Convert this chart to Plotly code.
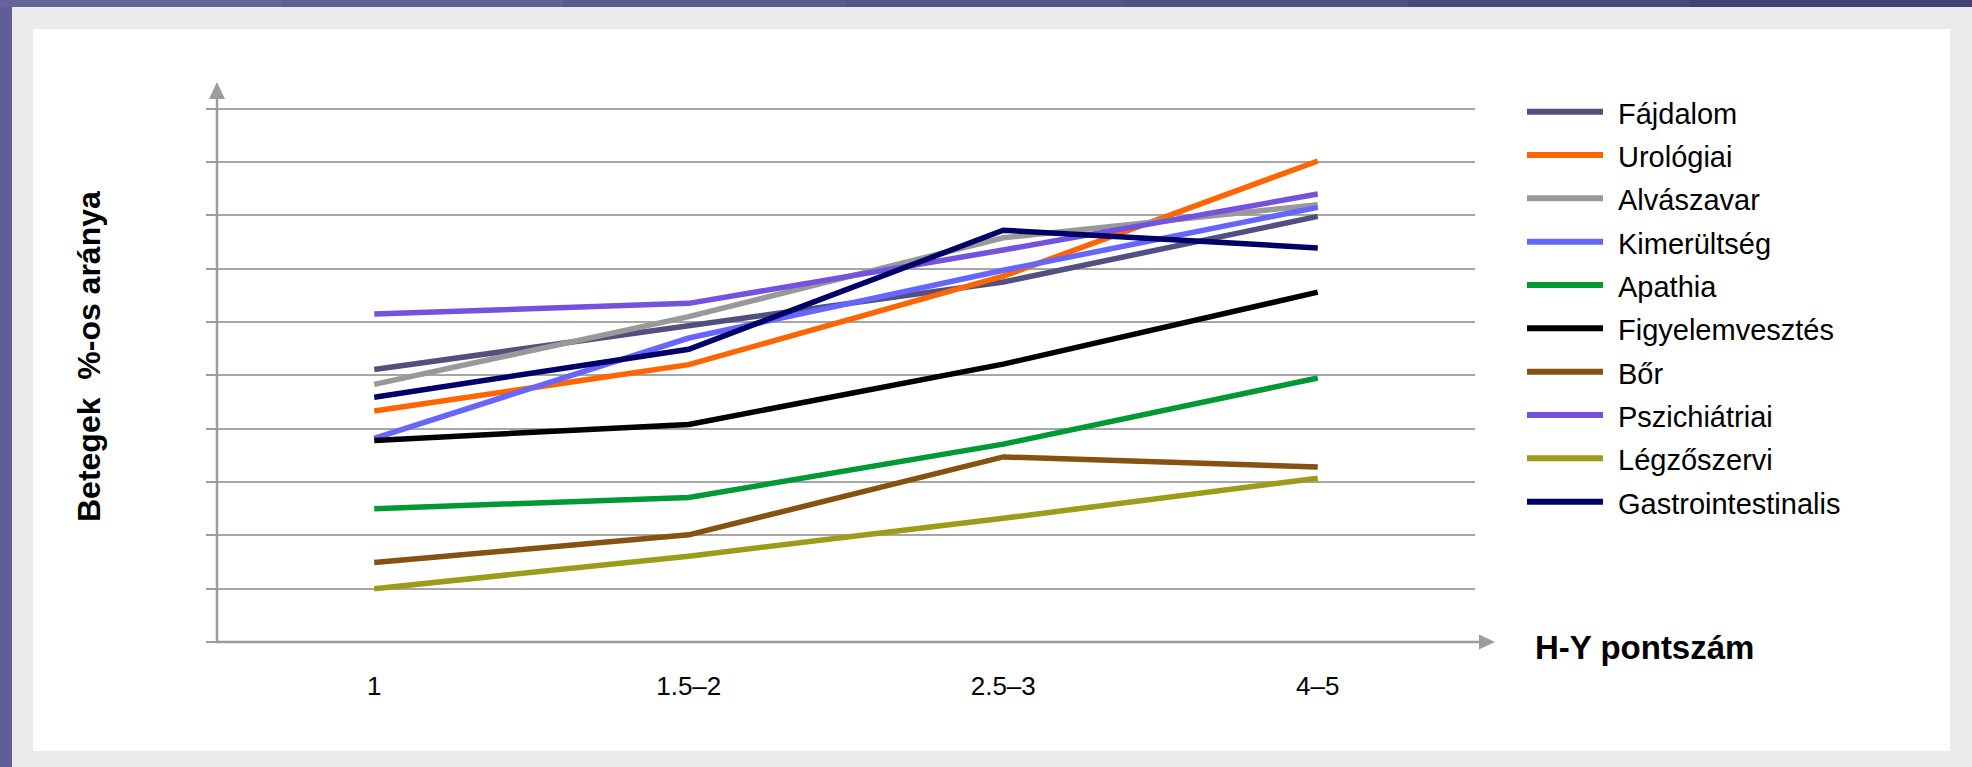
import plotly.graph_objects as go

# H-Y score groups (x axis)
categories = ["1", "1.5–2", "2.5–3", "4–5"]

# Share of patients (%) per symptom domain
fajdalom = [51.1, 59.2, 67.5, 79.8]
urologiai = [43.3, 52.0, 68.6, 90.2]
alvaszavar = [48.3, 61.0, 75.8, 82.0]
kimerultseg = [38.2, 57.0, 69.7, 81.5]
apathia = [25.0, 27.1, 37.1, 49.5]
figyelemvesztes = [37.8, 40.8, 52.1, 65.6]
bor = [14.9, 20.1, 34.7, 32.8]
pszichiatriai = [61.5, 63.5, 73.5, 84.0]
legzoszervi = [10.0, 16.1, 23.2, 30.7]
gastrointestinalis = [45.9, 54.9, 77.2, 73.9]

series_names = ["Fájdalom", "Urológiai", "Alvászavar", "Kimerültség", "Apathia",
                "Figyelemvesztés", "Bőr", "Pszichiátriai", "Légzőszervi",
                "Gastrointestinalis"]
series_values = [fajdalom, urologiai, alvaszavar, kimerultseg, apathia,
                 figyelemvesztes, bor, pszichiatriai, legzoszervi, gastrointestinalis]
series_colors = ["#51507F", "#FF6600", "#999999", "#6666FF", "#009933",
                 "#000000", "#855211", "#7352DD", "#9C9C1A", "#000066"]

W, H = 1972, 767
L, R, T, B = 217, 1475, 81, 642          # plot area in pixels
Y_TOP = (B - T) / 5.333                   # 10 % per 53.33 px

FONT = "Liberation Sans, Arial, sans-serif"
AXIS_GRAY = "#9C9C9C"


def px(x):
    return (x - L) / (R - L)


def py(y):
    return (B - y) / (B - T)


fig = go.Figure()
for name, vals, col in zip(series_names, series_values, series_colors):
    fig.add_trace(go.Scatter(x=categories, y=vals, mode="lines", name=name,
                             line=dict(color=col, width=5.5), showlegend=False))

shapes = []
# slide background panels
shapes.append(dict(type="rect", xref="paper", yref="paper", x0=px(12), x1=px(W),
                   y0=py(H), y1=py(7), fillcolor="#EBEBEB", line_width=0, layer="below"))
shapes.append(dict(type="rect", xref="paper", yref="paper", x0=px(33), x1=px(1950),
                   y0=py(751), y1=py(29), fillcolor="#FFFFFF", line_width=0, layer="below"))
# top band, shading from left to right
band = ["#66649B", "#615F96", "#5B5990", "#55538A", "#4F4D83", "#49477C", "#434175"]
seg = W / len(band)
for i, c in enumerate(band):
    shapes.append(dict(type="rect", xref="paper", yref="paper", x0=px(i * seg),
                       x1=px((i + 1) * seg + 1), y0=py(7), y1=py(0),
                       fillcolor=c, line_width=0, layer="below"))

# axis lines with arrow heads
shapes.append(dict(type="line", xref="paper", yref="paper", x0=px(L), x1=px(L),
                   y0=py(B + 1), y1=py(99), line=dict(color=AXIS_GRAY, width=2.5), layer="above"))
shapes.append(dict(type="line", xref="paper", yref="paper", x0=px(L - 1), x1=px(1480),
                   y0=py(B), y1=py(B), line=dict(color=AXIS_GRAY, width=2.5), layer="above"))
shapes.append(dict(type="path", xref="paper", yref="paper",
                   path=f"M {px(209)},{py(99)} L {px(225)},{py(99)} L {px(217)},{py(82)} Z",
                   fillcolor=AXIS_GRAY, line_width=0, layer="above"))
shapes.append(dict(type="path", xref="paper", yref="paper",
                   path=f"M {px(1479)},{py(634.5)} L {px(1479)},{py(649.5)} L {px(1495)},{py(642)} Z",
                   fillcolor=AXIS_GRAY, line_width=0, layer="above"))

annotations = []
# legend
for i, (name, col) in enumerate(zip(series_names, series_colors)):
    yy = 111.7 + 43.33 * i
    shapes.append(dict(type="line", xref="paper", yref="paper", x0=px(1527), x1=px(1603),
                       y0=py(yy), y1=py(yy), line=dict(color=col, width=6)))
    annotations.append(dict(xref="paper", yref="paper", x=px(1616), y=py(yy + 2),
                            xanchor="left", yanchor="middle", showarrow=False, text=name,
                            font=dict(family=FONT, size=29, color="#000000")))

# axis titles
annotations.append(dict(xref="paper", yref="paper", x=px(89), y=py(357), textangle=-90,
                        xanchor="center", yanchor="middle", showarrow=False,
                        text="<b>Betegek \u00a0%-os aránya</b>",
                        font=dict(family=FONT, size=32, color="#000000")))
annotations.append(dict(xref="paper", yref="paper", x=px(1533), y=py(647),
                        xanchor="left", yanchor="middle", showarrow=False,
                        text="<b>H-Y pontszám</b>",
                        font=dict(family=FONT, size=33, color="#000000")))

fig.update_layout(
    width=W, height=H, autosize=False,
    margin=dict(l=L, r=W - R, t=T, b=H - B, pad=0),
    paper_bgcolor="#5F5E94", plot_bgcolor="#FFFFFF",
    shapes=shapes, annotations=annotations, showlegend=False,
    font=dict(family=FONT, color="#000000"),
    xaxis=dict(type="category", range=[-0.5, 3.5], showgrid=False, showline=False,
               zeroline=False, ticks="", ticklabelstandoff=26,
               tickfont=dict(family=FONT, size=26, color="#000000")),
    yaxis=dict(range=[0, Y_TOP], dtick=10, tick0=0, showgrid=True, gridcolor="#A6A6A6",
               gridwidth=1.6, zeroline=False, showline=False, showticklabels=False,
               ticks="outside", ticklen=10, tickwidth=2, tickcolor=AXIS_GRAY),
)

fig.write_html("out.html", config={"displayModeBar": False})
